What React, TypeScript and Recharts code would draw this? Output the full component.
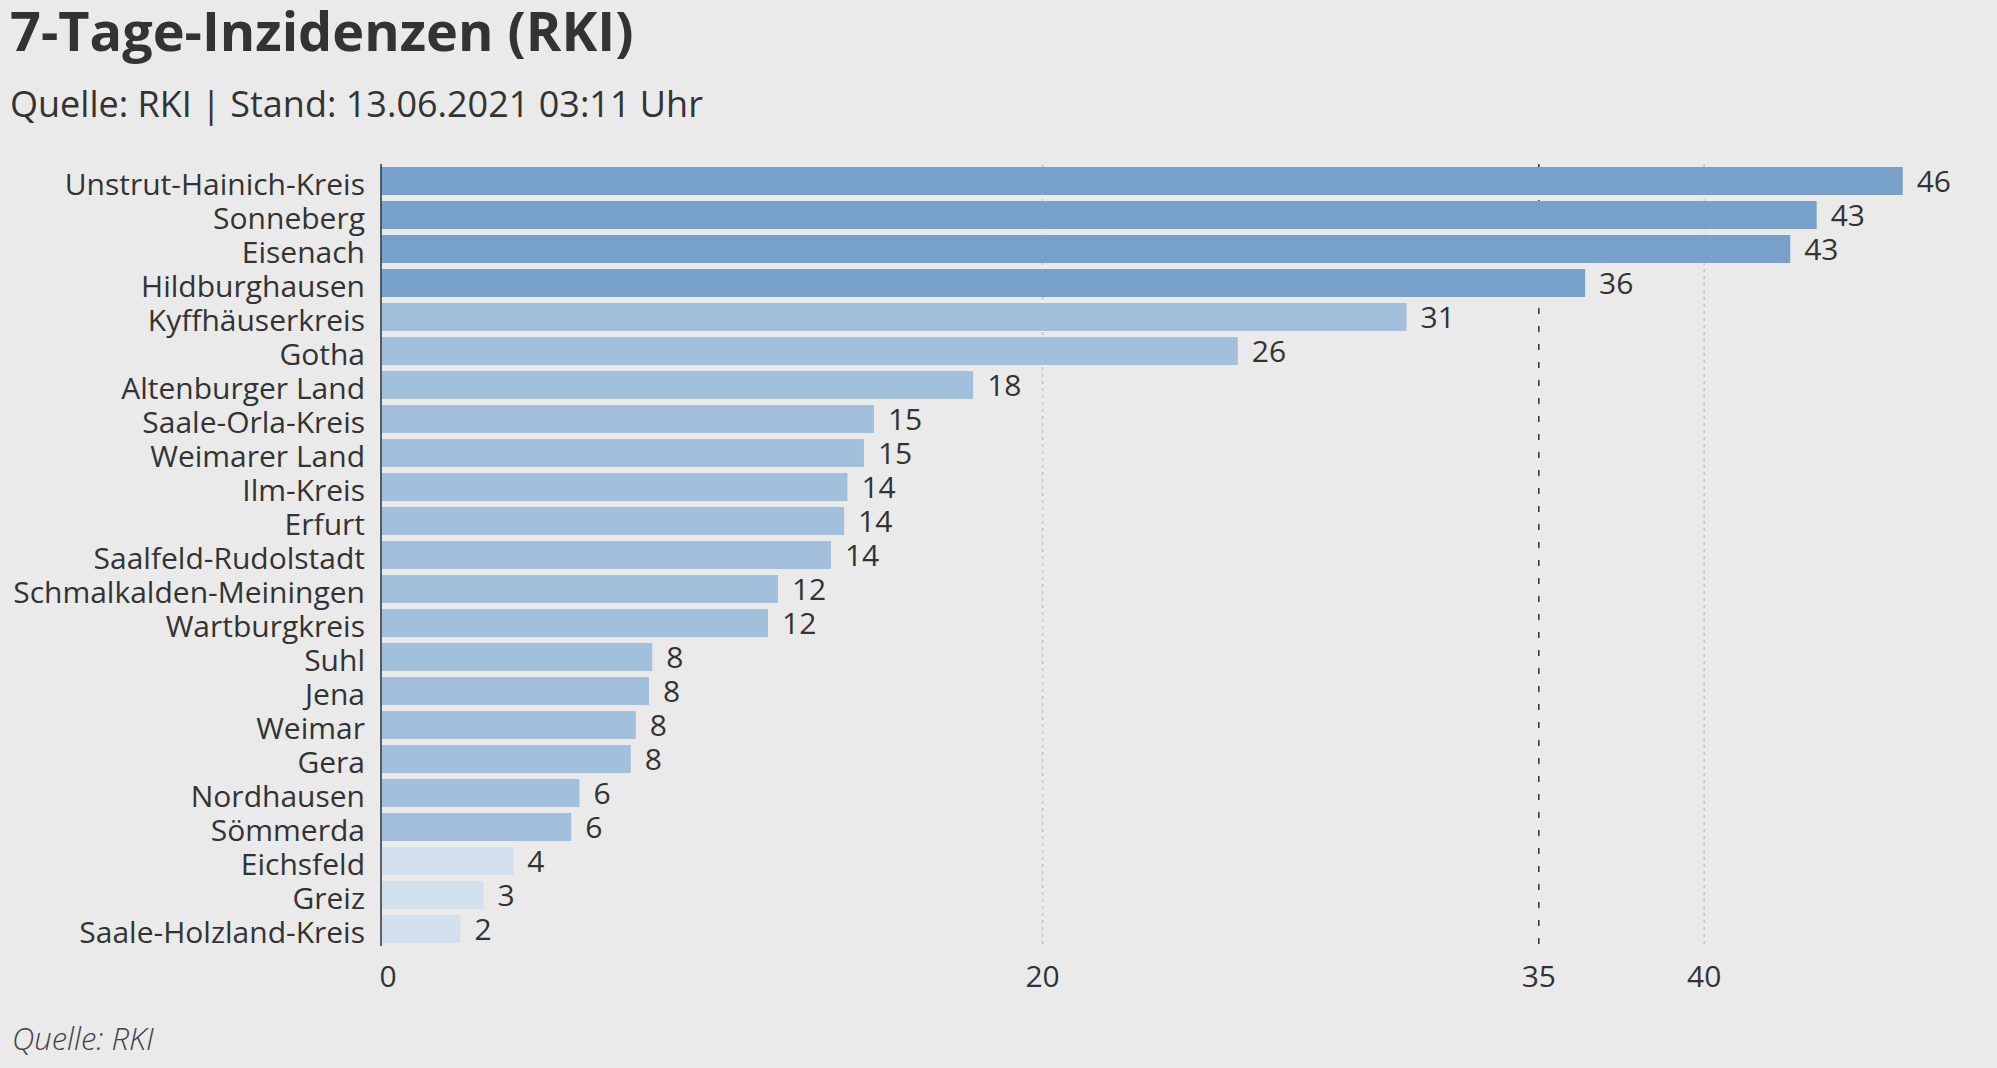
import { Bar, BarChart, CartesianGrid, Cell, LabelList, XAxis, YAxis } from 'recharts'

const districts = [
  'Unstrut-Hainich-Kreis',
  'Sonneberg',
  'Eisenach',
  'Hildburghausen',
  'Kyffhäuserkreis',
  'Gotha',
  'Altenburger Land',
  'Saale-Orla-Kreis',
  'Weimarer Land',
  'Ilm-Kreis',
  'Erfurt',
  'Saalfeld-Rudolstadt',
  'Schmalkalden-Meiningen',
  'Wartburgkreis',
  'Suhl',
  'Jena',
  'Weimar',
  'Gera',
  'Nordhausen',
  'Sömmerda',
  'Eichsfeld',
  'Greiz',
  'Saale-Holzland-Kreis',
]

const incidences = [
  46.0, 43.4, 42.6, 36.4, 31.0, 25.9, 17.9, 14.9, 14.6, 14.1, 14.0, 13.6, 12.0, 11.7, 8.2, 8.1, 7.7, 7.55, 6.0, 5.75,
  4.0, 3.1, 2.4,
]

const xTicks = [0, 20, 35, 40]
const gridValues = [20, 40]
const thresholdValues = [35]

const data = districts.map((name, i) => ({ name, value: incidences[i] }))

const font = '"Open Sans", sans-serif'
const textColor = '#333333'

function barColor(value: number) {
  if (value >= 35) return '#77a0cb'
  if (value >= 5) return '#a2bfdb'
  return '#d2e0ee'
}

function XTick(props: any) {
  const { x, y, payload } = props
  return (
    <text x={x + (payload.value === 0 ? 7 : 0)} y={y} dy="0.71em" textAnchor="middle" fill={textColor} fontSize={30} fontFamily={font}>
      {payload.value}
    </text>
  )
}

function YTick(props: any) {
  const { x, y, payload } = props
  return (
    <text x={x} y={y + 3} dy="0.355em" textAnchor="end" fill={textColor} fontSize={30} fontFamily={font}>
      {payload.value}
    </text>
  )
}

export default function App() {
  return (
    <div style={{ position: 'relative', width: 1997, height: 1068, background: '#eaeaea', fontFamily: font, color: textColor }}>
      <style>{`body { margin: 0; background: #eaeaea; }`}</style>
      <div style={{ position: 'absolute', left: 10, top: 1, fontSize: 54, fontWeight: 700, lineHeight: 1.1, whiteSpace: 'nowrap' }}>
        7-Tage-Inzidenzen (RKI)
      </div>
      <div style={{ position: 'absolute', left: 10, top: 86, fontSize: 36, lineHeight: 1, whiteSpace: 'nowrap' }}>
        Quelle: RKI | Stand: 13.06.2021 03:11 Uhr
      </div>
      <div
        style={{
          position: 'absolute',
          left: 12,
          top: 1023,
          fontSize: 31,
          fontStyle: 'italic',
          fontWeight: 300,
          lineHeight: 1,
          color: '#444444',
          whiteSpace: 'nowrap',
        }}
      >
        Quelle: RKI
      </div>
      <div style={{ position: 'absolute', left: 0, top: 0 }}>
        <BarChart
          width={1997}
          height={1068}
          data={data}
          layout="vertical"
          barSize={28}
          margin={{ top: 164, right: 91, bottom: 62, left: 0 }}
        >
          <CartesianGrid
            horizontal={false}
            stroke="#c4c4c4"
            strokeWidth={1.5}
            strokeDasharray="3 4"
            verticalValues={gridValues}
          />
          <CartesianGrid
            horizontal={false}
            stroke={textColor}
            strokeWidth={1.5}
            strokeDasharray="6 12"
            verticalValues={thresholdValues}
          />
          <XAxis
            type="number"
            domain={[0, 46.1]}
            ticks={xTicks}
            height={60}
            axisLine={false}
            tickLine={false}
            tickSize={0}
            tickMargin={20}
            tick={<XTick />}
          />
          <YAxis
            type="category"
            dataKey="name"
            width={381}
            interval={0}
            axisLine={{ stroke: textColor, strokeWidth: 1.5 }}
            tickLine={false}
            tickSize={0}
            tickMargin={16}
            tick={<YTick />}
          />
          <Bar dataKey="value" isAnimationActive={false}>
            {data.map((entry) => (
              <Cell key={entry.name} fill={barColor(entry.value)} />
            ))}
            <LabelList
              dataKey="value"
              position="right"
              offset={14}
              formatter={(v: any) => Math.round(Number(v))}
              fill={textColor}
              fontSize={30}
              fontFamily={font}
            />
          </Bar>
        </BarChart>
      </div>
    </div>
  )
}
